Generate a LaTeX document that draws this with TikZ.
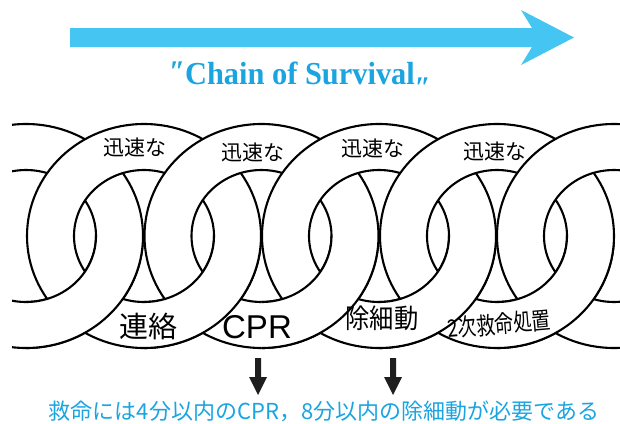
\documentclass[tikz,border=0pt]{standalone}
\usepackage{fontspec}
\usetikzlibrary{calc}
\setmainfont{Liberation Serif}
\newfontfamily\jpfont{Noto Sans CJK JP}
\newfontfamily\jpnarrow[FakeStretch=0.78]{Noto Sans CJK JP}
\newfontfamily\jpmid[FakeStretch=0.9]{Noto Sans CJK JP}
\newfontfamily\latinsans{Liberation Sans}
\newfontfamily\titlefont[FakeStretch=0.95]{Liberation Serif}
\definecolor{arrowblue}{HTML}{45C5F1}
\definecolor{textblue}{HTML}{1AA4E0}
\definecolor{inkdark}{HTML}{1E1E1E}
% one chain link: white annulus with outer and inner rim
\newcommand\chainlink[1]{%
  \path[link] (#1,236) ellipse [x radius=117pt, y radius=112pt]
              (#1,236) ellipse [x radius=70pt, y radius=66pt];}
\begin{document}
\begin{tikzpicture}[x=1pt, y=-1pt,
  link/.style={fill=white, draw=black, line width=2.1pt, even odd rule},
  toplabel/.style={inner sep=0pt, font=\jpfont\fontsize{21}{21}\selectfont},
  downarrow/.style={fill=inkdark, draw=none},
]
\useasboundingbox (0,0) rectangle (620,423);

% big progress arrow
\fill[arrowblue] (70,28) -- (532,28) -- (521,10) -- (574,37.5) -- (521,65)
  -- (532,47) -- (70,47) -- cycle;
\node[text=textblue, inner sep=0pt] (title) at (300,80)
  {\titlefont\bfseries\fontsize{32}{32}\selectfont
   \raisebox{3pt}{\fontsize{30}{30}\selectfont ″}Chain of Survival\raisebox{-13pt}{\fontsize{30}{30}\selectfont ″}};

% the chain: each link drawn over its left neighbour,
% then the lower-right quarter of each link redrawn so that it passes over the next one
\begin{scope}
  \clip (12,0) rectangle (620,423);
  \foreach \c in {26,144,261.5,379,497,614} {\chainlink{\c}}
  \foreach \c in {26,144,261.5,379,497} {
    \begin{scope}
      \clip (\c,236) rectangle (\c+117.5,423);
      \chainlink{\c}
    \end{scope}
  }
\end{scope}

% labels on the links
\node[toplabel] (fast1) at (135,147) {迅速な};
\node[toplabel] (fast2) at (253,152) {迅速な};
\node[toplabel] (fast3) at (373,148) {迅速な};
\node[toplabel] (fast4) at (495,151) {迅速な};
\node[inner sep=0pt, font=\jpfont\fontsize{29}{29}\selectfont] (call) at (148,327) {連絡};
\node[inner sep=0pt, font=\latinsans\fontsize{33}{33}\selectfont] (cpr) at (257,327) {CPR};
\node[inner sep=0pt, font=\jpmid\fontsize{27}{27}\selectfont] (defib) at (382,318) {除細動};
\node[inner sep=0pt, rotate=5, font=\jpnarrow\fontsize{24}{24}\selectfont] (als) at (499,324) {2次救命処置};

% pointers to the summary line
\coordinate (a1) at (258,358);
\coordinate (a2) at (393,358);
\foreach \a in {a1,a2} {
  \fill[downarrow] ($(\a)+(-3,0)$) -- ++(6,0) -- ++(0,19) -- ++(6,0)
    -- ($(\a)+(0,37)$) -- ++(-9,-18) -- ++(6,0) -- cycle;
}
\node[text=textblue, inner sep=0pt, font=\jpfont\fontsize{22}{22}\selectfont] (summary) at (324,411)
  {救命には4分以内のCPR，8分以内の除細動が必要である};
\end{tikzpicture}
\end{document}
